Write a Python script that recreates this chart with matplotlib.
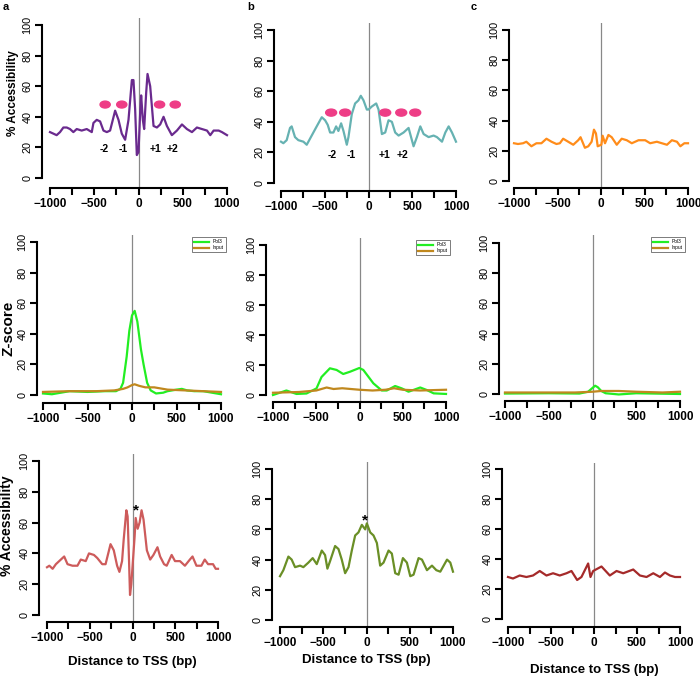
import matplotlib
matplotlib.use('Agg')
from matplotlib import pyplot as plt
from matplotlib.patches import Ellipse

plt.rcParams['font.family'] = ['Liberation Sans', 'DejaVu Sans']

W, H = 700, 676

# ---- data ----
# top row: MNase accessibility
acc_a_x = [-1000, -962, -925, -887, -849, -811, -774, -736, -698, -642, -585, -528, -509, -472,
           -434, -396, -358, -321, -264, -226, -189, -151, -113, -75, -57, -38, -19, 0, 19, 30,
           49, 64, 87, 102, 132, 170, 208, 245, 283, 321, 377, 434, 491, 547, 604, 660, 717,
           774, 811, 849, 906, 943, 1000]
acc_a_y = [30, 29, 28, 30, 33, 33, 32, 30, 32, 31, 32, 30, 36, 38,
           37, 31, 30, 31, 44, 38, 29, 25, 38, 64, 64, 45, 15, 17, 43, 54,
           38, 32, 56, 68, 60, 34, 33, 35, 40, 34, 28, 31, 35, 32, 30, 33, 32,
           31, 28, 31, 31, 30, 28]

acc_b_x = [-1000, -973, -935, -897, -878, -840, -802, -744, -706, -649, -592, -534, -496, -466,
           -439, -401, -370, -344, -313, -286, -248, -229, -191, -153, -115, -88, -57, -19, 0,
           38, 88, 115, 153, 191, 229, 267, 305, 344, 401, 458, 496, 515, 553, 592, 630, 687,
           744, 782, 840, 878, 916, 954, 1000]
acc_b_y = [27, 26, 28, 36, 37, 30, 28, 27, 25, 31, 37, 43, 41, 38,
           33, 33, 37, 34, 39, 34, 25, 30, 45, 52, 54, 57, 54, 48, 48,
           50, 52, 48, 32, 33, 41, 40, 33, 31, 33, 36, 28, 24, 30, 37, 32, 30,
           31, 30, 27, 33, 37, 33, 27]

acc_c_x = [-1000, -954, -896, -858, -800, -742, -685, -627, -569, -512, -473, -435, -377, -319,
           -262, -235, -185, -146, -108, -81, -58, -38, 4, 19, 46, 85, 123, 181, 238, 296, 354,
           431, 508, 565, 642, 700, 758, 815, 873, 912, 958, 1000]
acc_c_y = [25, 24.5, 25, 26, 23, 25, 25, 28, 26, 24.5, 25, 28, 26, 24,
           27, 29, 22, 23, 26, 34, 31.5, 23, 24, 30, 25, 30.5, 29, 24, 28, 27, 25,
           27, 27, 25, 26, 25, 24, 27, 26, 23, 25, 25]

nuc_a_x = [-377, -189, 238, 415]
nuc_b_x = [-427, -267, 191, 374, 534]
nuc_labels = ['-2', '-1', '+1', '+2']
lab_a_x = [-385, -170, 189, 389]
lab_b_x = [-412, -202, 183, 389]

# middle row: ChIP z-scores
z_a_x = [-1000, -900, -800, -700, -500, -300, -180, -130, -100, -60, -30, 0, 30, 60, 100,
         130, 170, 210, 270, 350, 400, 500, 560, 620, 700, 800, 900, 1000]
z_a_pol3 = [1, 0.5, 1.5, 2.5, 2, 2.5, 2.5, 4, 8, 25, 42, 52, 55, 48, 30,
            20, 8, 3, 1, 1.5, 2.5, 3.5, 4, 3, 2.5, 2.5, 1.5, 0.5]
z_a_in_x = [-1000, -700, -400, -200, -100, -50, 0, 30, 80, 150, 250, 400, 600, 800, 1000]
z_a_input = [2, 2.5, 2.5, 3, 4, 5, 6.5, 7, 6, 5, 5, 3.5, 3, 2.5, 2]

z_b_x = [-1000, -845, -729, -613, -497, -439, -342, -265, -188, -110, -2, 44, 160, 257, 315,
         412, 489, 567, 702, 779, 857, 1000]
z_b_pol3 = [0, 3, 0.7, 1, 4.4, 12, 17.8, 16.7, 14, 15.5, 18, 16.7, 7.8, 3, 3,
            6, 4.4, 2.2, 5, 3.3, 1.1, 0.7]
z_b_in_x = [-1000, -700, -500, -380, -300, -200, -100, 0, 150, 300, 400, 500, 700, 1000]
z_b_input = [1.5, 2, 3, 5, 4, 4.5, 4, 3.5, 3, 3.5, 4.5, 3.5, 3, 3.5]

z_c_x = [-1000, -500, -150, -50, 0, 30, 60, 100, 150, 300, 500, 700, 1000]
z_c_pol3 = [0.3, 0.5, 0.3, 1.5, 4, 5.5, 4.5, 2, 0.5, -0.3, 0.5, 0.3, 0]
z_c_in_x = [-1000, -600, -200, 0, 100, 300, 500, 800, 1000]
z_c_input = [1, 1, 1, 1.5, 2, 2, 1.5, 1, 1.5]

# bottom row: accessibility after treatment
bot_a_x = [-1000, -973, -934, -896, -838, -799, -760, -702, -644, -605, -547, -509, -451, -412,
           -354, -315, -257, -219, -180, -153, -122, -103, -72, -57, -41, -29, -14, 6, 25, 37,
           60, 83, 106, 129, 168, 207, 245, 292, 323, 369, 400, 458, 497, 555, 613, 671, 702,
           748, 806, 845, 884, 942, 973, 1000]
bot_a_y = [31, 32, 30, 33, 36, 38, 33, 32, 32, 36, 35, 40, 39, 37,
           33, 33, 46, 42, 32, 28, 35, 49, 68, 64, 36, 13, 20, 36, 51, 63,
           56, 60, 68, 62, 42, 36, 39, 44, 38, 33, 32, 39, 35, 35, 32, 36, 38,
           32, 32, 36, 33, 33, 30, 30]

bot_b_x = [-1000, -961, -903, -865, -826, -768, -730, -672, -622, -575, -517, -479, -452, -421,
           -363, -324, -286, -247, -208, -170, -131, -93, -54, -15, 4, 43, 81, 120, 158, 197,
           255, 293, 332, 371, 421, 467, 506, 544, 602, 641, 699, 757, 807, 853, 931, 969, 1000]
bot_b_y = [29, 33, 42, 40, 35, 36, 35, 38, 41, 37, 46, 43, 34, 39,
           49, 47, 40, 31, 35, 46, 56, 58, 63, 60, 64, 58, 56, 51, 36, 38,
           46, 44, 31, 30, 41, 38, 29, 30, 41, 40, 33, 36, 33, 32, 40, 38, 32]

bot_c_x = [-1000, -942, -864, -786, -709, -631, -553, -476, -398, -320, -262, -196, -146, -68,
           -41, -10, 87, 184, 262, 340, 456, 534, 611, 689, 767, 825, 883, 942, 1000]
bot_c_y = [28, 27, 29, 28, 29, 32, 29, 30.5, 29, 30.5, 32, 26, 28, 37,
           28, 32, 35, 29, 32, 30.5, 33, 29, 28, 30.5, 28, 31, 29, 28, 28]

# ---- panel geometry in pixels: y-axis x, x-axis y, x of -1000, x of 1000, y of 0, y of 100, top
geom = {
    'ta': (42, 188, 50, 227, 178, 25, 18),
    'tb': (274, 191, 281, 456, 183, 30, 23),
    'tc': (509, 188, 514, 688, 181, 30, 23),
    'ma': (37, 403, 43, 221, 395, 242, 235),
    'mb': (266, 402, 273, 446, 395, 245, 238),
    'mc': (499, 401, 505, 680, 394, 243, 235),
    'ba': (39, 622, 47, 218, 615, 461, 454),
    'bb': (272, 627, 280, 453, 620, 469, 462),
    'bc': (502, 627, 508, 680, 619, 469, 463),
}

fig = plt.figure(figsize=(W / 100, H / 100), dpi=100)


def make_ax(key):
    ax_x, ax_y, x0, x1, y0, y100, top = geom[key]
    sx = (x1 - x0) / 2000
    sy = (y0 - y100) / 100
    right = x1 + (x0 - ax_x)
    ax = fig.add_axes([ax_x / W, 1 - ax_y / H, (right - ax_x) / W, (ax_y - top) / H])
    ax.set_xlim(-1000 - (x0 - ax_x) / sx, 1000 + (right - x1) / sx)
    ax.set_ylim(-(ax_y - y0) / sy, 100 + (y100 - top) / sy)
    ax.patch.set_alpha(0)
    for s in ['top', 'right']:
        ax.spines[s].set_visible(False)
    ax.spines['left'].set_bounds(0, 100)
    ax.spines['bottom'].set_bounds(-1000, 1000)
    for s in ['left', 'bottom']:
        ax.spines[s].set_linewidth(1.5)
    ax.set_xticks(range(-1000, 1001, 250))
    ax.set_xticklabels(['\u22121000', '', '\u2212500', '', '0', '', '500', '', '1000'],
                       fontweight='bold', fontsize=8.5)
    ax.set_yticks(range(0, 101, 20))
    ax.set_yticklabels([str(v) for v in range(0, 101, 20)], fontsize=7.8,
                       rotation=90, va='center')
    ax.tick_params(length=5, width=1.5, pad=2)
    ax.axvline(0, color='#888888', lw=0.9, zorder=1)
    return ax


# top row
ax = make_ax('ta')
ax.plot(acc_a_x, acc_a_y, color='#6A2A8E', lw=1.6)
for x in nuc_a_x:
    ax.add_patch(Ellipse((x, 48), 115, 4.5, color='#EE3D86', zorder=3))
for x, t in zip(lab_a_x, nuc_labels):
    ax.text(x, 19, t, ha='center', va='center', fontsize=7.5, fontweight='bold')

ax = make_ax('tb')
ax.plot(acc_b_x, acc_b_y, color='#66B2B2', lw=1.6)
for x in nuc_b_x:
    ax.add_patch(Ellipse((x, 46), 125, 4.6, color='#EE3D86', zorder=3))
for x, t in zip(lab_b_x, nuc_labels):
    ax.text(x, 18, t, ha='center', va='center', fontsize=7.5, fontweight='bold')

ax = make_ax('tc')
ax.plot(acc_c_x, acc_c_y, color='#FF8C1A', lw=1.6)

# middle row
legend_anchor = {'ma': (228, 235), 'mb': (452, 238), 'mc': (687, 235)}
for key, xs, p, xi, inp in [('ma', z_a_x, z_a_pol3, z_a_in_x, z_a_input),
                            ('mb', z_b_x, z_b_pol3, z_b_in_x, z_b_input),
                            ('mc', z_c_x, z_c_pol3, z_c_in_x, z_c_input)]:
    ax = make_ax(key)
    ax.plot(xs, p, color='#22EE22', lw=1.6, label='Pol3')
    ax.plot(xi, inp, color='#C0881E', lw=1.6, label='Input')
    lx, ly = legend_anchor[key]
    leg = ax.legend(loc='upper right', bbox_to_anchor=(lx / W, 1 - ly / H),
                    bbox_transform=fig.transFigure, fontsize=3.5, handlelength=3,
                    borderpad=0.4, labelspacing=0.2, fancybox=False, framealpha=1)
    leg.get_frame().set_edgecolor('#666666')
    leg.get_frame().set_linewidth(0.6)

# bottom row
ax = make_ax('ba')
ax.plot(bot_a_x, bot_a_y, color='#CD5B5B', lw=1.6)
ax.text(44, 68, '*', ha='center', va='center', fontsize=11, fontweight='bold')

ax = make_ax('bb')
ax.plot(bot_b_x, bot_b_y, color='#6A8F26', lw=1.6)
ax.text(-15, 66, '*', ha='center', va='center', fontsize=11, fontweight='bold')

ax = make_ax('bc')
ax.plot(bot_c_x, bot_c_y, color='#A52A2A', lw=1.6)

# labels
fig.text(13 / W, 1 - 93 / H, '% Accessibility', rotation=90, ha='center', va='center',
         fontsize=8.5, fontweight='bold')
fig.text(9 / W, 1 - 328 / H, 'Z-score', rotation=90, ha='center', va='center',
         fontsize=11, fontweight='bold')
fig.text(7 / W, 1 - 526 / H, '% Accessibility', rotation=90, ha='center', va='center',
         fontsize=10, fontweight='bold')
for x, y in [(132, 662), (366, 660), (594, 670)]:
    fig.text(x / W, 1 - y / H, 'Distance to TSS (bp)', ha='center', va='center',
             fontsize=9.5, fontweight='bold')
for x, t in [(6, 'a'), (251, 'b'), (474, 'c')]:
    fig.text(x / W, 1 - 7 / H, t, ha='center', va='center', fontsize=8, fontweight='bold')

fig.savefig('out.png', dpi=100)
